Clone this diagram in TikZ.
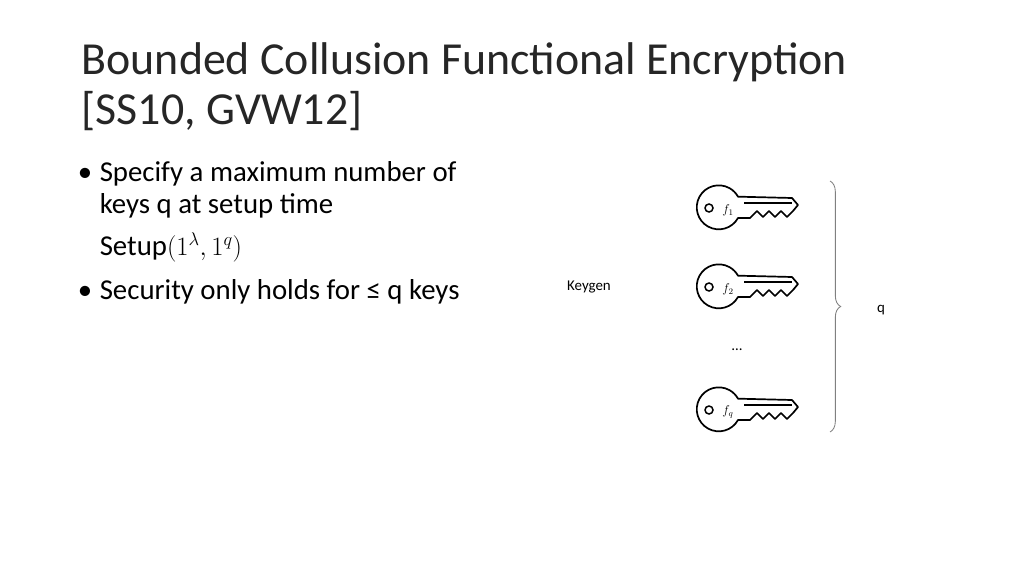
\documentclass[tikz,border=0pt]{standalone}
\usepackage{fontspec}
\setmainfont{Carlito}
\usepackage{amsmath}
\usetikzlibrary{decorations.pathreplacing}
\tikzset{
  title/.style = {anchor=base west, font=\fontsize{43}{50}\selectfont, text=black!85},
  item/.style = {anchor=base west, font=\fontsize{27}{32}\selectfont},
  small/.style = {font=\fontsize{14}{17}\selectfont},
  keyline/.style = {draw, line width=1.6pt, line join=round}
}
\newcommand{\keyicon}[3]{%
  \begin{scope}[shift={(#1)}]
    \draw[keyline] (18,10) arc[start angle=29, end angle=331, radius=22]
      -- (72,-10) -- (78,-3) -- (73,3) -- (67,9) -- (61,3) -- (55,9) -- (49,3)
      -- (43,9) -- (37,3) -- (30,10) -- cycle;
    \draw[keyline] (24,-5) -- (72,-5);
    \draw[line width=1.4pt] (-11,0) circle (4);
    \node[inner sep=0pt, font=\large] (#2) at (8,2) {$#3$};
  \end{scope}}
\begin{document}
\begin{tikzpicture}[x=0.9375pt, y=-0.9375pt]
  \useasboundingbox (0,0) rectangle (1024,576);
  \node[title] (t1) at (78,75) {Bounded Collusion Functional Encryption};
  \node[title] (t2) at (78,125) {[SS10, GVW12]};
  \node[item] (b1) at (74,181) {•};
  \node[item] (i1) at (96,181) {Specify a maximum number of};
  \node[item] (i2) at (96,213) {keys q at setup time};
  \node[item] (i3) at (96,255) {$\text{Setup}(1^{\lambda},1^{q})$};
  \node[item] (b2) at (74,299) {•};
  \node[item] (i4) at (96,299) {Security only holds for ≤ q keys};
  \node[small] (kg) at (589,287) {Keygen};
  \keyicon{720,208}{k1}{f_1}
  \keyicon{720,287}{k2}{f_2}
  \keyicon{720,410}{kq}{f_q}
  \node[small] (dots) at (737,350) {…};
  \coordinate (bt) at (830,181);
  \coordinate (bb) at (830,432);
  \draw[gray, thick, decorate, decoration={brace, amplitude=10pt}] (bt) -- (bb);
  \node[small] (q) at (881,310) {q};
\end{tikzpicture}
\end{document}
